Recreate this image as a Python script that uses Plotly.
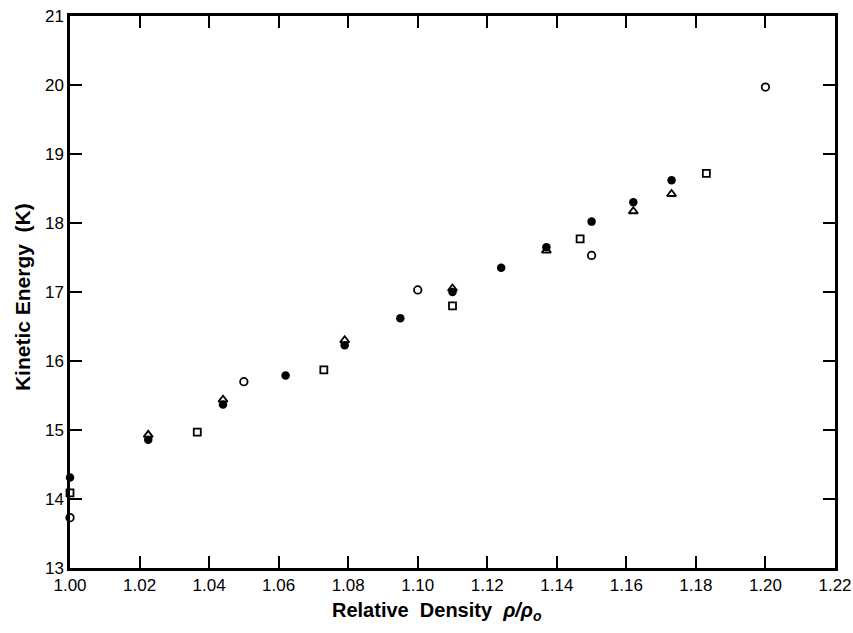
import plotly.graph_objects as go

# Kinetic energy vs relative density, four data sets
filled_x = [1.000, 1.0225, 1.044, 1.062, 1.079, 1.095, 1.110, 1.124, 1.137, 1.150, 1.162, 1.173]
filled_y = [14.31, 14.86, 15.37, 15.79, 16.23, 16.62, 17.00, 17.35, 17.65, 18.02, 18.30, 18.62]

tri_x = [1.0225, 1.044, 1.079, 1.110, 1.137, 1.162, 1.173]
tri_y = [14.93, 15.44, 16.30, 17.05, 17.60, 18.17, 18.42]

square_x = [1.000, 1.0366, 1.073, 1.110, 1.1467, 1.183]
square_y = [14.09, 14.97, 15.87, 16.80, 17.77, 18.72]

open_x = [1.000, 1.050, 1.100, 1.150, 1.200]
open_y = [13.73, 15.70, 17.03, 17.53, 19.97]

x_ticks = [1.00, 1.02, 1.04, 1.06, 1.08, 1.10, 1.12, 1.14, 1.16, 1.18, 1.20, 1.22]
x_tick_text = ["1.00", "1.02", "1.04", "1.06", "1.08", "1.10", "1.12", "1.14", "1.16", "1.18", "1.20", "1.22"]
y_ticks = [13, 14, 15, 16, 17, 18, 19, 20, 21]

fig = go.Figure()

fig.add_trace(go.Scatter(
    x=filled_x, y=filled_y, mode="markers", cliponaxis=False,
    marker=dict(symbol="circle", size=8.5, color="black", line=dict(width=0)),
))
fig.add_trace(go.Scatter(
    x=tri_x, y=tri_y, mode="markers", cliponaxis=False,
    marker=dict(symbol="triangle-up-open", size=8, color="black", line=dict(width=1.8)),
))
fig.add_trace(go.Scatter(
    x=square_x, y=square_y, mode="markers", cliponaxis=False,
    marker=dict(symbol="square-open", size=7, color="black", line=dict(width=1.8)),
))
fig.add_trace(go.Scatter(
    x=open_x, y=open_y, mode="markers", cliponaxis=False,
    marker=dict(symbol="circle-open", size=7.5, color="black", line=dict(width=1.8)),
))

axis_common = dict(
    showgrid=False, zeroline=False, automargin=False,
    showline=True, linecolor="black", linewidth=2.5, mirror="ticks",
    ticks="inside", ticklen=12, tickwidth=2, tickcolor="black",
    tickfont=dict(family="Liberation Sans", size=17, color="black"),
)

fig.update_layout(
    width=853, height=633,
    margin=dict(l=70, r=18, t=16, b=65),
    paper_bgcolor="white", plot_bgcolor="white",
    showlegend=False,
    xaxis=dict(range=[1.0, 1.22], tickvals=x_ticks, ticktext=x_tick_text, **axis_common),
    yaxis=dict(range=[13, 21], tickvals=y_ticks, **axis_common),
    annotations=[
        dict(
            text="Relative&nbsp;&nbsp;Density&nbsp;&nbsp;<i>ρ/ρ<sub>o</sub></i>",
            xref="paper", yref="paper", x=0.48, y=-0.078,
            xanchor="center", yanchor="middle", showarrow=False,
            font=dict(family="Liberation Sans", size=20, color="black", weight="bold"),
        ),
        dict(
            text="Kinetic&nbsp;Energy&nbsp;&nbsp;(K)",
            xref="paper", yref="paper", x=-0.062, y=0.49, textangle=-90,
            xanchor="center", yanchor="middle", showarrow=False,
            font=dict(family="Liberation Sans", size=21, color="black", weight="bold"),
        ),
    ],
)

fig.write_html("out.html")
